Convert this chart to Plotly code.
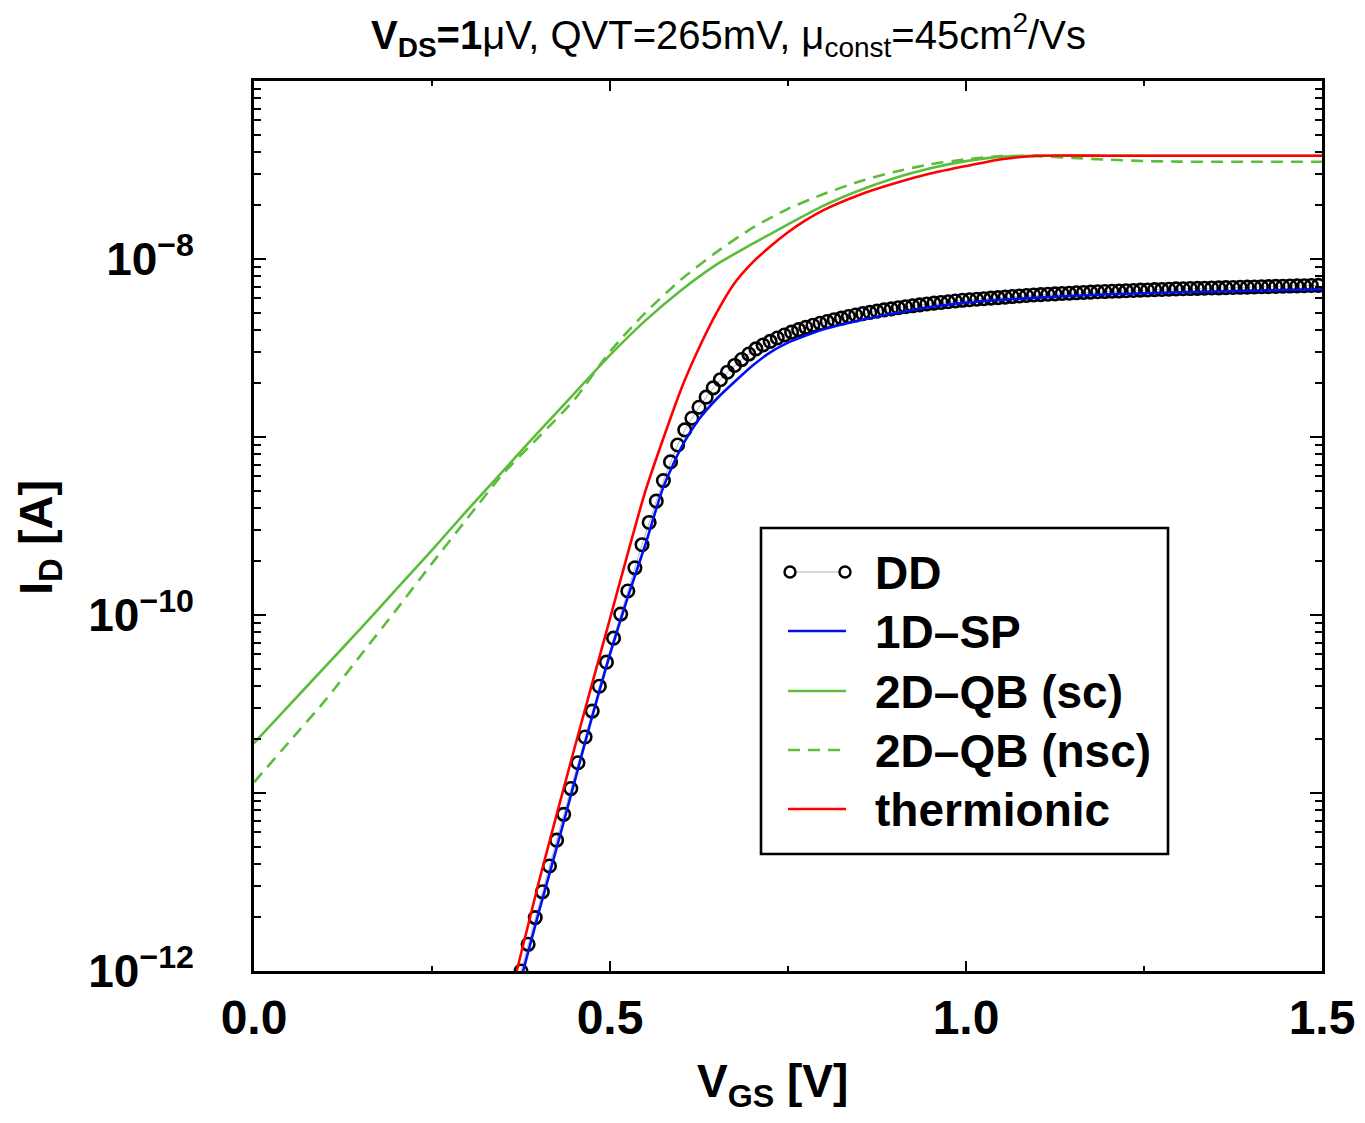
import plotly.graph_objects as go

# ---------------- data (log10 of I_D in A) ----------------
VGS_DD_START = 0.375
VGS_DD_STEP = 0.01
DD_LOG10 = [
    -12.00, -11.85, -11.70, -11.555, -11.41, -11.265, -11.12, -10.975, -10.83, -10.685,
    -10.54, -10.40, -10.265, -10.13, -9.995, -9.865, -9.735, -9.605, -9.48, -9.36,
    -9.245, -9.14, -9.045, -8.96, -8.895, -8.833, -8.776, -8.724, -8.678, -8.636,
    -8.598, -8.565, -8.534, -8.505, -8.483, -8.463, -8.444, -8.427, -8.411, -8.397,
    -8.384, -8.372, -8.361, -8.351, -8.341, -8.332, -8.323, -8.315, -8.307, -8.300,
    -8.293, -8.286, -8.280, -8.274, -8.268, -8.263, -8.258, -8.253, -8.248, -8.244,
    -8.240, -8.236, -8.232, -8.229, -8.226, -8.223, -8.220, -8.217, -8.214, -8.211,
    -8.208, -8.205, -8.202, -8.200, -8.198, -8.196, -8.194, -8.192, -8.190, -8.188,
    -8.186, -8.184, -8.183, -8.181, -8.180, -8.178, -8.177, -8.175, -8.174, -8.172,
    -8.171, -8.170, -8.168, -8.167, -8.166, -8.165, -8.164, -8.163, -8.162, -8.161,
    -8.160, -8.159, -8.158, -8.157, -8.156, -8.155, -8.154, -8.153, -8.152, -8.151,
    -8.150, -8.149, -8.148,
]
VGS_DD = [round(VGS_DD_START + VGS_DD_STEP * k, 3) for k in range(len(DD_LOG10))]

VGS_SP = [0.378, 0.40, 0.425, 0.45, 0.475, 0.50, 0.525, 0.55, 0.575, 0.60, 0.625, 0.65,
          0.675, 0.70, 0.725, 0.75, 0.775, 0.80, 0.85, 0.90, 0.95, 1.00, 1.10, 1.20,
          1.30, 1.40, 1.50]
SP_LOG10 = [-12.0, -11.67, -11.31, -10.94, -10.57, -10.22, -9.90, -9.60, -9.28, -9.06,
            -8.90, -8.785, -8.69, -8.60, -8.525, -8.47, -8.43, -8.395, -8.345, -8.305,
            -8.27, -8.245, -8.217, -8.198, -8.187, -8.178, -8.170]

VGS_SC = [0.0, 0.05, 0.10, 0.15, 0.20, 0.25, 0.30, 0.35, 0.40, 0.45, 0.50, 0.55, 0.60,
          0.65, 0.70, 0.75, 0.80, 0.85, 0.90, 0.95, 1.00, 1.05, 1.10, 1.20, 1.30, 1.40, 1.50]
SC_LOG10 = [-10.72, -10.505, -10.29, -10.075, -9.855, -9.635, -9.41, -9.19, -8.97, -8.755,
            -8.54, -8.345, -8.175, -8.03, -7.915, -7.805, -7.70, -7.615, -7.545, -7.49,
            -7.45, -7.425, -7.42, -7.42, -7.42, -7.42, -7.42]

VGS_NSC = [0.0, 0.05, 0.10, 0.15, 0.20, 0.25, 0.30, 0.35, 0.40, 0.45, 0.50, 0.55, 0.60,
           0.65, 0.70, 0.75, 0.80, 0.85, 0.90, 0.95, 1.00, 1.05, 1.10, 1.15, 1.20, 1.25,
           1.30, 1.40, 1.50]
NSC_LOG10 = [-10.94, -10.71, -10.48, -10.225, -9.97, -9.71, -9.455, -9.205, -9.00, -8.79,
             -8.52, -8.30, -8.115, -7.96, -7.825, -7.718, -7.635, -7.565, -7.51, -7.468,
             -7.44, -7.422, -7.422, -7.432, -7.442, -7.45, -7.453, -7.454, -7.454]

VGS_TH = [0.369, 0.40, 0.45, 0.50, 0.55, 0.60, 0.625, 0.65, 0.675, 0.70, 0.725, 0.75,
          0.775, 0.80, 0.85, 0.90, 0.95, 1.00, 1.05, 1.10, 1.20, 1.30, 1.40, 1.50]
TH_LOG10 = [-12.0, -11.50, -10.75, -10.02, -9.30, -8.73, -8.50, -8.30, -8.135, -8.02,
            -7.93, -7.85, -7.782, -7.725, -7.64, -7.575, -7.52, -7.478, -7.44, -7.42,
            -7.42, -7.42, -7.42, -7.42]

LEGEND_LABELS = ["DD", "1D\u2013SP", "2D\u2013QB (sc)", "2D\u2013QB (nsc)", "thermionic"]
Y_LABEL_EXP = [-12, -10, -8]
Y_UNLABELED_EXP = [-11, -9, -7]
X_TICKS = [0.0, 0.5, 1.0, 1.5]

GREEN = "#5cbd3c"
BLUE = "#0010f0"
RED = "#ff0000"
FONT = "Liberation Sans"


def lin(vals):
    return [10 ** v for v in vals]


fig = go.Figure()
fig.add_trace(go.Scatter(x=VGS_DD, y=lin(DD_LOG10), mode="lines+markers", name="DD",
                         line=dict(color="#a0a0a0", width=0.8),
                         marker=dict(symbol="circle-open", size=12.5, color="black",
                                     line=dict(width=2.6, color="black"))))
fig.add_trace(go.Scatter(x=VGS_SP, y=lin(SP_LOG10), mode="lines", name="1D-SP",
                         line=dict(color=BLUE, width=2.6, shape="spline", smoothing=0.6)))
fig.add_trace(go.Scatter(x=VGS_SC, y=lin(SC_LOG10), mode="lines", name="2D-QB (sc)",
                         line=dict(color=GREEN, width=2.6, shape="spline", smoothing=0.6)))
fig.add_trace(go.Scatter(x=VGS_NSC, y=lin(NSC_LOG10), mode="lines", name="2D-QB (nsc)",
                         line=dict(color=GREEN, width=2.6, dash="12px,8px",
                                   shape="spline", smoothing=0.6)))
fig.add_trace(go.Scatter(x=VGS_TH, y=lin(TH_LOG10), mode="lines", name="thermionic",
                         line=dict(color=RED, width=2.6, shape="spline", smoothing=0.6)))
# helper (invisible) trace so that the second y axis carrying the unlabeled decade ticks is drawn
fig.add_trace(go.Scatter(x=[VGS_TH[-1]], y=[10 ** TH_LOG10[-1]], yaxis="y2", mode="markers",
                         marker=dict(opacity=0), hoverinfo="skip", showlegend=False))

# ---------------- layout ----------------
L, R, T, B = 254, 43, 81, 152
W, H = 1365, 1123
PW, PH = W - L - R, H - T - B


def px2paper(px, py):
    return (px - L) / PW, (H - B - py) / PH


fig.update_layout(
    width=W, height=H, margin=dict(l=L, r=R, t=T, b=B, autoexpand=False),
    paper_bgcolor="white", plot_bgcolor="white", showlegend=False,
    font=dict(family=FONT, color="black"),
    xaxis=dict(range=[0, 1.5], tickvals=X_TICKS, ticktext=["%.1f" % v for v in X_TICKS],
               ticks="inside", ticklen=10, tickwidth=2.2, tickcolor="black",
               showline=True, linewidth=2.6, linecolor="black", mirror="ticks",
               showgrid=False, zeroline=False, ticklabelstandoff=3,
               tickfont=dict(family=FONT, size=48, weight="bold", color="black"),
               minor=dict(dtick=0.25, ticks="inside", ticklen=5, tickwidth=2.2,
                          tickcolor="black", showgrid=False)),
    yaxis=dict(type="log", range=[-12, -7],
               tickvals=[10.0 ** e for e in Y_LABEL_EXP],
               ticktext=["10<sup>\u2212%d</sup>" % (-e) for e in Y_LABEL_EXP],
               ticks="inside", ticklen=12, tickwidth=2.2, tickcolor="black",
               showline=True, linewidth=2.6, linecolor="black", mirror="ticks",
               showgrid=False, zeroline=False, ticklabelstandoff=48,
               tickfont=dict(family=FONT, size=46, weight="bold", color="black"),
               minor=dict(dtick="D1", ticks="inside", ticklen=7, tickwidth=2.2,
                          tickcolor="black", showgrid=False)),
    yaxis2=dict(type="log", range=[-12, -7], overlaying="y", side="left",
                tickvals=[10.0 ** e for e in Y_UNLABELED_EXP], showticklabels=False,
                ticks="inside", ticklen=12, tickwidth=2.2, tickcolor="black",
                showline=False, mirror="ticks", showgrid=False, zeroline=False),
)

ann = []
# title
tx, ty = px2paper(728, 35)
ann.append(dict(text="<b>V<sub>DS</sub>=1</b>\u03bcV, QVT=265mV, \u03bc<sub>const</sub>=45cm<sup>2</sup>/Vs",
                x=tx, y=ty, xref="paper", yref="paper", showarrow=False,
                xanchor="center", yanchor="middle",
                font=dict(family=FONT, size=40, color="black")))
# axis titles
ax, ay = px2paper(772, 1084)
ann.append(dict(text="V<sub>GS</sub> [V]", x=ax, y=ay, xref="paper", yref="paper",
                showarrow=False, xanchor="center", yanchor="middle",
                font=dict(family=FONT, size=46, weight="bold", color="black")))
bx, by = px2paper(39, 538)
ann.append(dict(text="I<sub>D</sub> [A]", x=bx, y=by, xref="paper", yref="paper",
                showarrow=False, xanchor="center", yanchor="middle", textangle=-90,
                font=dict(family=FONT, size=47, weight="bold", color="black")))

# ---------------- manual legend ----------------
shapes = []
x0, y0 = px2paper(761, 528)
x1, y1 = px2paper(1168, 854)
shapes.append(dict(type="rect", xref="paper", yref="paper", x0=x0, y0=y1, x1=x1, y1=y0,
                   line=dict(color="black", width=2.6), fillcolor="white", layer="above"))
rows = [572, 631, 691, 750, 809]
styles = [None, dict(color=BLUE, width=2.6), dict(color=GREEN, width=2.6),
          dict(color=GREEN, width=2.6, dash="12px,8px"), dict(color=RED, width=2.6)]
for label, ry, st in zip(LEGEND_LABELS, rows, styles):
    sx0, sy = px2paper(788, ry)
    sx1, _ = px2paper(846, ry)
    if st is None:
        cx0, _ = px2paper(790, ry)
        cx1, _ = px2paper(845, ry)
        shapes.append(dict(type="line", xref="paper", yref="paper", x0=cx0, x1=cx1, y0=sy, y1=sy,
                           line=dict(color="#a0a0a0", width=0.8), layer="above"))
        for cx in (cx0, cx1):
            shapes.append(dict(type="circle", xref="paper", yref="paper",
                               xsizemode="pixel", ysizemode="pixel", xanchor=cx, yanchor=sy,
                               x0=-5.5, x1=5.5, y0=-5.5, y1=5.5, fillcolor="white",
                               line=dict(color="black", width=2.4), layer="above"))
    else:
        shapes.append(dict(type="line", xref="paper", yref="paper", x0=sx0, x1=sx1, y0=sy, y1=sy,
                           line=st, layer="above"))
    lx, ly = px2paper(873, ry + 1)
    ann.append(dict(text=label, x=lx, y=ly, xref="paper", yref="paper",
                    showarrow=False, xanchor="left", yanchor="middle",
                    font=dict(family=FONT, size=46, weight="bold", color="black")))

fig.update_layout(annotations=ann, shapes=shapes)
fig.write_html("out.html")
